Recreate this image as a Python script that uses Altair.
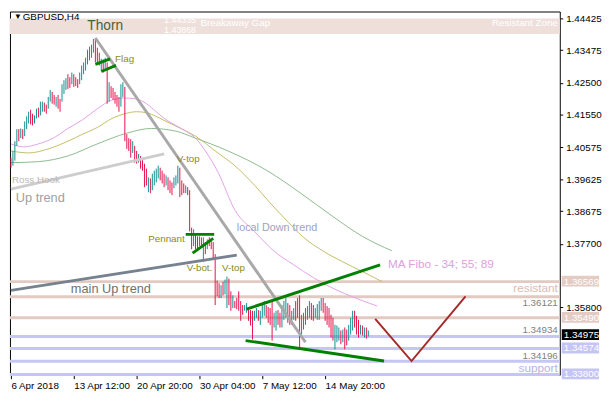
import altair as alt
import pandas as pd

# ---------------- data ----------------
# H4 bars of GBPUSD from 6 Apr 2018 (bar index 0) - high / low / direction (U = up, D = down)
highs = [
    1.4027, 1.4047, 1.4076, 1.4112, 1.4112, 1.4114, 1.4112, 1.4135, 1.4150, 1.4164,
    1.4170, 1.4158, 1.4153, 1.4173, 1.4176, 1.4194, 1.4194, 1.4191, 1.4185, 1.4208,
    1.4229, 1.4223, 1.4214, 1.4208, 1.4214, 1.4202, 1.4246, 1.4258, 1.4264, 1.4276,
    1.4267, 1.4281, 1.4276, 1.4267, 1.4261, 1.4281, 1.4302, 1.4311, 1.4325, 1.4349,
    1.4358, 1.4364, 1.4381, 1.4384, 1.4355, 1.4340, 1.4322, 1.4320, 1.4325, 1.4311,
    1.4252, 1.4240, 1.4235, 1.4223, 1.4214, 1.4208, 1.4246, 1.4252, 1.4238, 1.4097,
    1.4085, 1.4082, 1.4076, 1.4062, 1.4047, 1.4038, 1.4032, 1.4024, 1.4009, 1.3994,
    1.3968, 1.3965, 1.3979, 1.3988, 1.3994, 1.4003, 1.3997, 1.3988, 1.3979, 1.3974,
    1.3968, 1.3959, 1.3953, 1.3968, 1.3974, 1.4003, 1.3997, 1.3959, 1.3950, 1.3944,
    1.3939, 1.3930, 1.3818, 1.3813, 1.3798, 1.3792, 1.3792, 1.3789, 1.3789, 1.3775,
    1.3783, 1.3789, 1.3783, 1.3775, 1.3739, 1.3660, 1.3652, 1.3646, 1.3657, 1.3663,
    1.3672, 1.3666, 1.3628, 1.3616, 1.3599, 1.3608, 1.3628, 1.3599, 1.3587, 1.3587,
    1.3593, 1.3578, 1.3572, 1.3570, 1.3570, 1.3578, 1.3572, 1.3570, 1.3590, 1.3599,
    1.3587, 1.3581, 1.3578, 1.3599, 1.3564, 1.3570, 1.3572, 1.3564, 1.3587, 1.3599,
    1.3608, 1.3593, 1.3587, 1.3570, 1.3578, 1.3599, 1.3608, 1.3616, 1.3558, 1.3564,
    1.3578, 1.3584, 1.3599, 1.3593, 1.3587, 1.3578, 1.3590, 1.3599, 1.3608, 1.3608,
    1.3593, 1.3584, 1.3578, 1.3558, 1.3549, 1.3528, 1.3526, 1.3520, 1.3511, 1.3514,
    1.3520, 1.3514, 1.3528, 1.3549, 1.3570, 1.3570, 1.3555, 1.3543, 1.3528, 1.3526,
    1.3520, 1.3520, 1.3511,
]
lows = [
    1.3997, 1.4003, 1.4018, 1.4062, 1.4076, 1.4085, 1.4082, 1.4091, 1.4112, 1.4129,
    1.4126, 1.4123, 1.4129, 1.4144, 1.4147, 1.4153, 1.4164, 1.4164, 1.4158, 1.4173,
    1.4194, 1.4188, 1.4185, 1.4179, 1.4173, 1.4164, 1.4194, 1.4217, 1.4229, 1.4232,
    1.4235, 1.4246, 1.4238, 1.4241, 1.4235, 1.4246, 1.4258, 1.4276, 1.4287, 1.4305,
    1.4317, 1.4325, 1.4340, 1.4311, 1.4305, 1.4302, 1.4287, 1.4281, 1.4293, 1.4188,
    1.4194, 1.4205, 1.4199, 1.4188, 1.4179, 1.4164, 1.4179, 1.4208, 1.4076, 1.4053,
    1.4047, 1.4027, 1.4041, 1.4012, 1.4009, 1.4012, 1.3994, 1.3988, 1.3939, 1.3944,
    1.3924, 1.3921, 1.3930, 1.3944, 1.3953, 1.3965, 1.3959, 1.3950, 1.3939, 1.3944,
    1.3930, 1.3921, 1.3915, 1.3936, 1.3944, 1.3950, 1.3909, 1.3915, 1.3921, 1.3921,
    1.3915, 1.3807, 1.3754, 1.3763, 1.3754, 1.3748, 1.3763, 1.3760, 1.3716, 1.3739,
    1.3754, 1.3763, 1.3754, 1.3725, 1.3587, 1.3613, 1.3608, 1.3608, 1.3616, 1.3619,
    1.3578, 1.3587, 1.3570, 1.3578, 1.3578, 1.3575, 1.3570, 1.3540, 1.3558, 1.3570,
    1.3564, 1.3540, 1.3526, 1.3484, 1.3540, 1.3549, 1.3540, 1.3528, 1.3549, 1.3555,
    1.3549, 1.3534, 1.3528, 1.3481, 1.3520, 1.3511, 1.3528, 1.3520, 1.3520, 1.3543,
    1.3549, 1.3534, 1.3528, 1.3528, 1.3543, 1.3540, 1.3549, 1.3455, 1.3499, 1.3514,
    1.3528, 1.3543, 1.3549, 1.3543, 1.3540, 1.3549, 1.3543, 1.3543, 1.3570, 1.3564,
    1.3540, 1.3528, 1.3520, 1.3490, 1.3481, 1.3455, 1.3476, 1.3481, 1.3470, 1.3476,
    1.3455, 1.3467, 1.3481, 1.3499, 1.3511, 1.3520, 1.3499, 1.3490, 1.3499, 1.3496,
    1.3490, 1.3487, 1.3493,
]
directions = list(
    "DUUUDUDUUU" "DDUUDUUDDU" "UDDUDDUUUD" "DUDDDUUUUU" "UUUDDDUDUD"
    "UDDDDDUUDD" "DDUDDUDDDD" "UDUUUUDDDU" "DDDUUUDDDU" "DDDUDDUDUD"
    "UDDDDDDUDU" "UDDUDDDDDU" "UDDDUUDUUU" "DDDDUUDDUU" "UDDUUDDDUU"
    "UUUDDUUUUD" "DDDDDUUUDU" "DDUUUDDDUD" "UDU"
)

# Moving averages (MA Fibo 34 / 55 / 89) read at points: bar index, price
ma34_i = [0, 6.5, 14, 21.5, 29, 36.5, 44, 51.5, 58, 64, 69, 74, 79, 84, 89, 94, 99, 105.5, 114, 124, 134, 144, 154, 164, 175.5, 186.5]
ma34_p = [1.4068, 1.4059, 1.4068, 1.4085, 1.4114, 1.4140, 1.4173, 1.4199, 1.4205, 1.4202, 1.4188, 1.4164, 1.4140, 1.4123, 1.4106, 1.4085, 1.4047, 1.3983, 1.3871, 1.3807, 1.3748, 1.3707, 1.3669, 1.3637, 1.3608, 1.3584]
ma55_i = [0, 9, 19, 29, 36.5, 44, 51.5, 58, 64, 69, 74, 79, 86.5, 94, 104, 114, 124, 131.5, 139, 149, 159, 169, 179, 189]
ma55_p = [1.4047, 1.4041, 1.4053, 1.4076, 1.4097, 1.4117, 1.4144, 1.4158, 1.4164, 1.4161, 1.4150, 1.4135, 1.4114, 1.4091, 1.4047, 1.4003, 1.3945, 1.3895, 1.3848, 1.3789, 1.3748, 1.3716, 1.3687, 1.3657]
ma89_i = [0, 14, 29, 44, 59, 71.5, 84, 94, 110.5, 130.5, 147.5, 164, 179, 194]
ma89_p = [1.4012, 1.4015, 1.4032, 1.4068, 1.4100, 1.4114, 1.4106, 1.4085, 1.4047, 1.3988, 1.3921, 1.3851, 1.3792, 1.3749]

# Drawn lines: name, [bar indices], [prices], colour, width
trend_lines = [
    ("thorn", [43, 150], [1.4384, 1.3476], "#a8a8a8", 3),
    ("ross", [0, 78], [1.3933, 1.4038], "#cdcdcd", 3),
    ("mainup", [0, 115], [1.3631, 1.3736], "#76838f", 3),
    ("flag1", [43, 50.5], [1.4305, 1.4322], "#008000", 3),
    ("flag2", [46, 53.5], [1.4284, 1.4302], "#008000", 3),
    ("pen1", [89, 103.5], [1.3798, 1.3798], "#008000", 3),
    ("pen2", [92.5, 103], [1.3742, 1.3786], "#008000", 3),
    ("broad1", [120, 188], [1.3575, 1.3707], "#008000", 3),
    ("broad2", [119.5, 190], [1.3481, 1.3420], "#008000", 3),
    ("vproj", [185.5, 204, 231.5], [1.3546, 1.3420, 1.3613], "#a52a2a", 2),
]

resist_levels = [1.36569, 1.36121, 1.35490]
support_levels = [1.34934, 1.34574, 1.34196, 1.33800]
zone_top, zone_bottom = 1.44425, 1.43960

# chart annotations: text, bar index, price, colour, size, align
notes = [
    ("Thorn", 48, 1.4419, "#46632e", 14, "center"),
    ("Flag", 53, 1.4320, "#8a8a1a", 10, "left"),
    ("Ross Hook", 0.5, 1.3959, "#b8b8b8", 10, "left"),
    ("Up trend", 2.5, 1.3906, "#a0a0a0", 13, "left"),
    ("V-top", 84.5, 1.4023, "#8a8a1a", 10, "left"),
    ("Pennant", 88.5, 1.3783, "#8a8a1a", 10, "right"),
    ("V-bot.", 89.5, 1.3698, "#8a8a1a", 10, "left"),
    ("V-top", 107.5, 1.3698, "#8a8a1a", 10, "left"),
    ("local Down trend", 115, 1.3816, "#9aa5bd", 11, "left"),
    ("main Up trend", 30.5, 1.3634, "#707070", 13, "left"),
    ("MA Fibo - 34; 55; 89", 192, 1.3710, "#e0a0e0", 12, "left"),
    ("Breakaway Gap", 96.5, 1.4428, "#ffffff", 10, "left"),
    ("1.44335", 78, 1.4437, "#ffffff", 9, "left"),
    ("1.43868", 78, 1.4407, "#ffffff", 9, "left"),
]
# right-edge level captions: text, price, colour, size
edge_notes = [
    ("Resistant Zone", 1.4428, "#ffffff", 10),
    ("resistant", 1.3639, "#d8bcb4", 12),
    ("1.36121", 1.3593, "#7f7f7f", 10),
    ("1.34934", 1.3511, "#7f7f7f", 10),
    ("1.34196", 1.3436, "#7f7f7f", 10),
    ("support", 1.3399, "#b4b4ec", 12),
]
# price boxes on the axis: price, label, background, text colour
price_tags = [
    (1.36569, "1.36569", "#e4cbc4", "#ffffff"),
    (1.35490, "1.35490", "#e4cbc4", "#ffffff"),
    (1.34975, "1.34975", "#000000", "#ffffff"),
    (1.34574, "1.34574", "#c4c4f6", "#ffffff"),
    (1.33800, "1.33800", "#c4c4f6", "#ffffff"),
]

x_tick_pos = [0, 32, 64, 96, 128, 160]
x_tick_text = ["6 Apr 2018", "13 Apr 12:00", "20 Apr 20:00", "30 Apr 04:00", "7 May 12:00", "14 May 20:00"]
y_tick_vals = [1.44425, 1.43475, 1.42500, 1.41550, 1.40575, 1.39625, 1.38675, 1.37700, 1.35800]

# ---------------- chart ----------------
W, H = 560, 370
FONT = "Liberation Sans"
xs = alt.Scale(domain=[-0.5, 279.5], nice=False, zero=False)
ys = alt.Scale(domain=[1.3379, 1.4463], nice=False, zero=False)
UP, DN = "#0f8f8f", "#e8104a"

label_expr = " : ".join(f"datum.value == {v} ? '{t}'" for v, t in zip(x_tick_pos, x_tick_text)) + " : ''"

x_axis = alt.Axis(
    values=x_tick_pos, labelExpr=label_expr, labelAlign="left", tickSize=4, labelPadding=2,
    domain=False, grid=False, title=None, labelFont=FONT, labelFontSize=10, labelColor="#000000",
    tickColor="#000000", labelOverlap=False, labelFlush=False, labelBound=False)
y_axis = alt.Axis(
    orient="right", values=y_tick_vals, format=".5f", tickSize=3, labelPadding=3, domain=False,
    grid=False, title=None, labelFont=FONT, labelFontSize=10, labelColor="#000000", tickColor="#000000",
    labelOverlap=False, labelFlush=False, labelBound=False)


def X(f):
    return alt.X(f, type="quantitative", scale=xs, axis=x_axis)


def Y(f):
    return alt.Y(f, type="quantitative", scale=ys, axis=y_axis)


bars = pd.DataFrame({
    "i": list(range(len(highs))),
    "high": highs,
    "low": lows,
    "col": [UP if d == "U" else DN for d in directions],
})

layers = []

# resistant zone band
zone = alt.Chart(pd.DataFrame({"t": [zone_top], "b": [zone_bottom]})).mark_rect(color="#efdfdb").encode(
    x=alt.value(0), x2=alt.value(W), y=Y("t"), y2="b:Q")
layers.append(zone)

layers.append(alt.Chart(pd.DataFrame({"p": resist_levels})).mark_rule(color="#e2cac3", strokeWidth=3).encode(y=Y("p")))
layers.append(alt.Chart(pd.DataFrame({"p": support_levels})).mark_rule(color="#c6c6f4", strokeWidth=3).encode(y=Y("p")))

for mi, mp, c in [(ma89_i, ma89_p, "#8dbb8d"), (ma55_i, ma55_p, "#c2bd6a"), (ma34_i, ma34_p, "#e2a2e8")]:
    d = pd.DataFrame({"i": mi, "p": mp})
    layers.append(alt.Chart(d).mark_line(color=c, strokeWidth=1, interpolate="monotone", clip=True).encode(
        x=X("i"), y=Y("p")))

candles = alt.Chart(bars).mark_rule(strokeWidth=1, clip=True).encode(
    x=X("i"), y=Y("low"), y2="high:Q", color=alt.Color("col:N", scale=None))
layers.append(candles)

for name, li, lp, c, w in trend_lines:
    d = pd.DataFrame({"i": li, "p": lp, "o": list(range(len(li)))})
    layers.append(alt.Chart(d).mark_line(color=c, strokeWidth=w, clip=True).encode(
        x=X("i"), y=Y("p"), order="o:Q"))

nd = pd.DataFrame(notes, columns=["t", "i", "p", "c", "s", "a"])
for a in ["left", "center", "right"]:
    sub = nd[nd.a == a]
    layers.append(alt.Chart(sub).mark_text(align=a, baseline="middle", font=FONT).encode(
        x=X("i"), y=Y("p"), text="t:N",
        color=alt.Color("c:N", scale=None), size=alt.Size("s:Q", scale=None)))

ed = pd.DataFrame(edge_notes, columns=["t", "p", "c", "s"])
layers.append(alt.Chart(ed).mark_text(align="right", baseline="middle", font=FONT).encode(
    x=alt.value(W - 2), y=Y("p"), text="t:N",
    color=alt.Color("c:N", scale=None), size=alt.Size("s:Q", scale=None)))

td = pd.DataFrame(price_tags, columns=["p", "t", "bg", "fg"])
layers.append(alt.Chart(td).mark_rect(yOffset=-6, y2Offset=5).encode(
    x=alt.value(W + 2), x2=alt.value(W + 40), y=Y("p"), y2="p:Q",
    color=alt.Color("bg:N", scale=None)))
layers.append(alt.Chart(td).mark_text(align="left", baseline="middle", font=FONT, fontSize=10).encode(
    x=alt.value(W + 4), y=Y("p"), text="t:N", color=alt.Color("fg:N", scale=None)))

layers.append(alt.Chart(pd.DataFrame({"t": ["\u25bc"]})).mark_text(
    align="left", baseline="middle", font=FONT, fontSize=8, color="#000000").encode(
    x=alt.value(4), y=alt.value(6), text="t:N"))
layers.append(alt.Chart(pd.DataFrame({"t": ["GBPUSD,H4"]})).mark_text(
    align="left", baseline="middle", font=FONT, fontSize=10, color="#000000").encode(
    x=alt.value(13), y=alt.value(6), text="t:N"))

chart = alt.layer(*layers).properties(width=W, height=H, padding=0, background="white").configure_view(
    stroke="#000000", strokeWidth=1)

chart.save("out.html", embed_options={"renderer": "svg", "actions": False})
